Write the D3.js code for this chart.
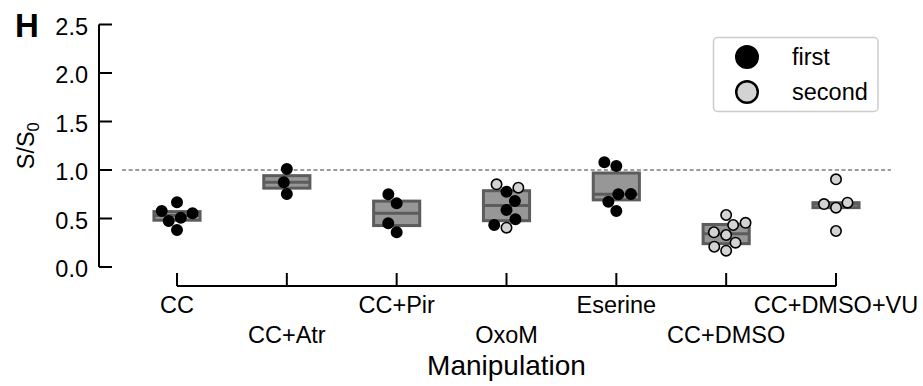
<!DOCTYPE html>
<html>
<head>
<meta charset="utf-8">
<script src="https://cdn.jsdelivr.net/npm/d3@7"></script>
<style>
  html, body { margin: 0; padding: 0; background: #fff; }
  svg { display: block; }
  text { font-family: "Liberation Sans", Arial, Helvetica, sans-serif; fill: #000; }
</style>
</head>
<body>
<svg id="chart" width="923" height="386"></svg>
<script>
// Treatment groups along the x axis
const categories = ["CC", "CC+Atr", "CC+Pir", "OxoM", "Eserine", "CC+DMSO", "CC+DMSO+VU"];

// S/S0 ratios per group, first application
const firstValues = [
  [0.667, 0.577, 0.553, 0.508, 0.474, 0.381],
  [1.010, 0.873, 0.753],
  [0.749, 0.656, 0.450, 0.358],
  [0.776, 0.680, 0.588, 0.492, 0.433],
  [1.079, 1.041, 0.753, 0.749, 0.673, 0.577],
  [],
  []
];

// S/S0 ratios per group, second application
const secondValues = [
  [],
  [],
  [],
  [0.852, 0.818, 0.405],
  [],
  [0.536, 0.455, 0.433, 0.358, 0.330, 0.251, 0.209, 0.168],
  [0.904, 0.663, 0.649, 0.612, 0.371]
];

const sessions = ["first", "second"];
const yTicks = [0.0, 0.5, 1.0, 1.5, 2.0, 2.5];
const referenceLevel = 1.0;

const svg = d3.select("#chart");
const FONT = 23.5;
const R = 6;               // marker radius used for the swarm layout (px)
const colors = { first: "#000000", second: "#d3d3d3" };
const boxFill = "#979797", boxEdge = "#5c5c5c";

const y = d3.scaleLinear().domain([0, 2.5]).range([267, 24.5]);
const x = d3.scalePoint().domain(categories).range([177, 836]);
const step = x.step();

// reference line at S/S0 = 1
svg.append("line")
  .attr("x1", x(categories[0]) - step / 2).attr("x2", x(categories[categories.length - 1]) + step / 2)
  .attr("y1", y(referenceLevel)).attr("y2", y(referenceLevel))
  .attr("stroke", "#3a3a3a").attr("stroke-width", 1.1).attr("stroke-dasharray", "4,2.6");

// y axis (offset spine, inward ticks)
const yAxis = svg.append("g").attr("transform", "translate(99,0)");
yAxis.append("line").attr("x1", 0).attr("x2", 0)
  .attr("y1", y(yTicks[yTicks.length - 1])).attr("y2", y(yTicks[0]))
  .attr("stroke", "#000").attr("stroke-width", 2);
yAxis.selectAll(".tk").data(yTicks).join("line")
  .attr("x1", 0).attr("x2", 13).attr("y1", d => y(d)).attr("y2", d => y(d))
  .attr("stroke", "#000").attr("stroke-width", 2);
yAxis.selectAll(".lb").data(yTicks).join("text")
  .attr("x", -11).attr("y", d => y(d) + 10.3)
  .attr("text-anchor", "end").attr("font-size", FONT)
  .text(d => d3.format(".1f")(d));

// y axis label S/S0
const yl = svg.append("text")
  .attr("transform", `translate(34,${(y(0) + y(2.5)) / 2}) rotate(-90)`)
  .attr("text-anchor", "middle").attr("font-size", FONT);
yl.append("tspan").text("S/S");
yl.append("tspan").attr("font-size", FONT * 0.7).attr("dy", 5).text("0");

// x axis (offset spine, inward ticks)
const xAxisY = 286;
const xAxis = svg.append("g");
xAxis.append("line")
  .attr("x1", x(categories[0])).attr("x2", x(categories[categories.length - 1]))
  .attr("y1", xAxisY).attr("y2", xAxisY).attr("stroke", "#000").attr("stroke-width", 2);
xAxis.selectAll(".tk").data(categories).join("line")
  .attr("x1", d => x(d)).attr("x2", d => x(d))
  .attr("y1", xAxisY).attr("y2", xAxisY - 13)
  .attr("stroke", "#000").attr("stroke-width", 2);
xAxis.selectAll(".lb").data(categories).join("text")
  .attr("x", d => x(d)).attr("y", (d, i) => i % 2 === 0 ? 313 : 343)
  .attr("text-anchor", "middle").attr("font-size", FONT)
  .text(d => d);

svg.append("text").attr("x", (x(categories[0]) + x(categories[categories.length - 1])) / 2)
  .attr("y", 375).attr("text-anchor", "middle").attr("font-size", 28)
  .text("Manipulation");

// panel letter
svg.append("text").attr("x", 15).attr("y", 37)
  .attr("font-size", 33).attr("font-weight", "bold").text("H");

// box plots (interquartile box with median)
const boxW = 0.42 * step;
categories.forEach((cat, i) => {
  const vals = firstValues[i].concat(secondValues[i]).sort(d3.ascending);
  const q1 = d3.quantile(vals, 0.25), med = d3.quantile(vals, 0.5), q3 = d3.quantile(vals, 0.75);
  const cx = x(cat);
  const g = svg.append("g");
  g.append("rect").attr("x", cx - boxW / 2).attr("width", boxW)
    .attr("y", y(q3)).attr("height", y(q1) - y(q3))
    .attr("fill", boxFill).attr("stroke", boxEdge).attr("stroke-width", 3);
  g.append("line").attr("x1", cx - boxW / 2).attr("x2", cx + boxW / 2)
    .attr("y1", y(med)).attr("y2", y(med))
    .attr("stroke", boxEdge).attr("stroke-width", 3);
});

// beeswarm layout: points placed in ascending order at the nearest free offset
function swarm(points, cx) {
  const d = 2 * R;
  const order = points.slice().sort((a, b) => a.value - b.value);
  const placed = [];
  order.forEach(p => {
    const py = y(p.value);
    const neighbors = [];
    for (let j = placed.length - 1; j >= 0; j--) {
      if (Math.abs(py - placed[j].py) < d) neighbors.push(placed[j]); else break;
    }
    const cands = [cx];
    let leftFirst = true;
    neighbors.forEach(n => {
      const dy = py - n.py;
      const dx = Math.sqrt(Math.max(d * d - dy * dy, 0)) * 1.05;
      if (leftFirst) cands.push(n.px - dx, n.px + dx); else cands.push(n.px + dx, n.px - dx);
      leftFirst = !leftFirst;
    });
    const sortedC = cands.map((c, k) => ({ c, k }))
      .sort((a, b) => (Math.abs(a.c - cx) - Math.abs(b.c - cx)) || (a.k - b.k));
    let chosen = cx;
    for (const { c } of sortedC) {
      if (neighbors.every(n => (n.px - c) ** 2 + (n.py - py) ** 2 >= d * d)) { chosen = c; break; }
    }
    p.px = chosen; p.py = py;
    placed.push(p);
  });
  return points;
}

categories.forEach((cat, i) => {
  const pts = firstValues[i].map(v => ({ value: v, session: "first" }))
    .concat(secondValues[i].map(v => ({ value: v, session: "second" })));
  swarm(pts, x(cat));
  svg.append("g").selectAll("circle").data(pts).join("circle")
    .attr("cx", d => d.px).attr("cy", d => d.py).attr("r", 5.2)
    .attr("fill", d => colors[d.session]).attr("stroke", "#000").attr("stroke-width", 1.6);
});

// legend
const lg = svg.append("g");
lg.append("rect").attr("x", 713.5).attr("y", 37.5).attr("width", 164.5).attr("height", 74)
  .attr("rx", 4).attr("fill", "#fff").attr("stroke", "#cccccc").attr("stroke-width", 1.5);
sessions.forEach((s, k) => {
  const cy = 57 + k * 35;
  lg.append("circle").attr("cx", 747).attr("cy", cy).attr("r", 10.8)
    .attr("fill", colors[s]).attr("stroke", "#000").attr("stroke-width", 2.4);
  lg.append("text").attr("x", 792).attr("y", cy + 8.4).attr("font-size", FONT).text(s);
});
</script>
</body>
</html>
